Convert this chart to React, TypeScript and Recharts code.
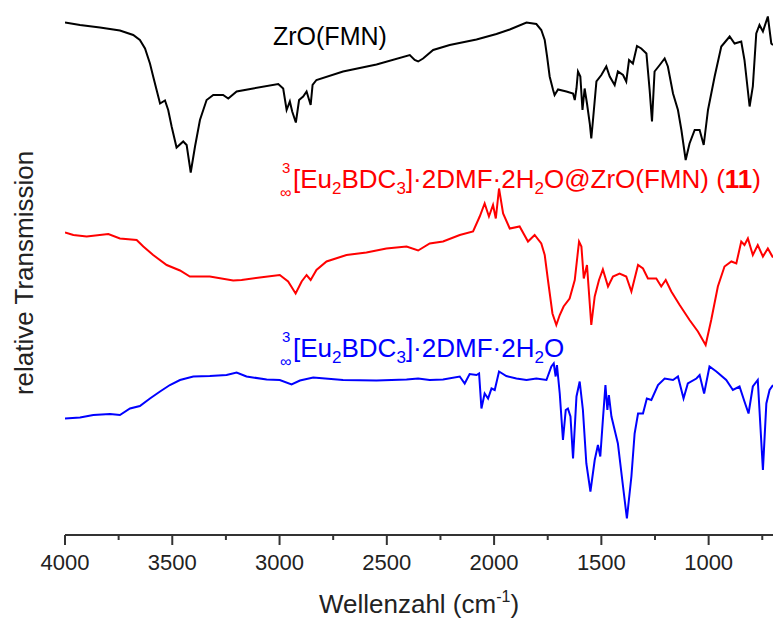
import React from 'react';
import { LineChart, Line, XAxis, YAxis, Customized } from 'recharts';

// wavenumbers (cm-1) and relative transmission
const zrWave = [4000, 3930, 3837, 3744, 3682, 3651, 3627, 3604, 3589, 3573, 3557, 3534, 3519, 3503, 3480, 3449, 3433, 3414, 3394, 3371, 3340, 3309, 3263, 3239, 3200, 3123, 3006, 2983, 2967, 2952, 2941, 2924, 2909, 2890, 2874, 2855, 2846, 2828, 2704, 2548, 2393, 2370, 2354, 2331, 2284, 2207, 2082, 1989, 1927, 1849, 1803, 1780, 1764, 1753, 1741, 1725, 1718, 1702, 1663, 1632, 1624, 1616, 1609, 1598, 1588, 1578, 1567, 1554, 1547, 1539, 1523, 1500, 1477, 1461, 1438, 1423, 1399, 1384, 1371, 1353, 1334, 1314, 1290, 1275, 1264, 1252, 1228, 1205, 1190, 1166, 1143, 1127, 1107, 1089, 1065, 1042, 1023, 1003, 972, 941, 902, 879, 848, 833, 809, 794, 778, 763, 747, 724, 708, 700];
const zrT = [102.5, 102, 101.5, 100.9, 100, 99, 97.3, 94.3, 91.7, 89, 86.3, 86.9, 85, 81.7, 77.5, 78.7, 78, 72.5, 77.7, 83, 87, 88, 88, 87.3, 88.7, 89.3, 90.2, 89.3, 85, 86.7, 84.7, 82.5, 87, 87.7, 88.7, 86, 90, 91, 92.7, 94.1, 96, 95, 94.7, 95.3, 97, 98, 99.1, 100.2, 101.1, 102.5, 102.2, 101, 99, 95.7, 91.7, 89, 88, 89.1, 88.7, 88.3, 87, 89.3, 92.7, 91.7, 85, 89.3, 86.3, 82.3, 79.3, 83, 90.7, 92, 93.7, 91.7, 90, 92.7, 92, 90.7, 95, 94.3, 97.8, 97.3, 96.3, 89, 82.7, 92.7, 94, 95.3, 93.7, 88.3, 85, 81, 75, 78.3, 81, 81, 78, 85, 91.7, 97.7, 99.7, 98.3, 98.7, 95, 85.7, 89.7, 100.3, 102, 100.7, 103.7, 98.3, 98];

const compWave = [4000, 3961, 3899, 3798, 3744, 3666, 3635, 3589, 3526, 3464, 3418, 3325, 3216, 3177, 3092, 2999, 2960, 2925, 2897, 2874, 2855, 2828, 2781, 2688, 2595, 2502, 2408, 2354, 2300, 2238, 2160, 2098, 2067, 2044, 2024, 2005, 1992, 1977, 1958, 1927, 1881, 1842, 1811, 1780, 1764, 1749, 1728, 1710, 1694, 1676, 1648, 1624, 1604, 1593, 1582, 1567, 1547, 1531, 1511, 1493, 1469, 1446, 1415, 1384, 1360, 1329, 1306, 1283, 1244, 1221, 1200, 1174, 1135, 1089, 1050, 1014, 988, 957, 926, 894, 871, 848, 833, 817, 794, 771, 747, 724, 703, 700];
const compT = [60.5, 60, 59.7, 60.2, 59.3, 59, 57.7, 56, 54, 52.9, 51.7, 51.7, 50.9, 51, 51.5, 52, 50.7, 48.3, 50.7, 52, 51, 53, 54.7, 56, 56.5, 57.3, 57.7, 56.9, 58.3, 58.7, 60, 60.7, 63.7, 66.3, 63.7, 66, 63.3, 69.3, 64.3, 61.3, 61.7, 58.7, 60, 58.3, 56, 51, 44.3, 42, 44, 45.7, 47.3, 51, 58.7, 57.7, 51.3, 54, 42, 47.7, 51, 53.1, 49.7, 51.7, 52.3, 51.7, 48.7, 54, 53.3, 51.3, 51.3, 49.7, 51, 48.7, 46, 43, 40.7, 38, 43, 49.7, 53.7, 54.7, 54.3, 58.7, 58, 59.3, 56, 58, 55.7, 57.3, 55.7, 55.5];

const euWave = [4000, 3930, 3868, 3790, 3744, 3697, 3651, 3604, 3557, 3511, 3464, 3402, 3325, 3247, 3200, 3154, 3060, 2999, 2944, 2905, 2843, 2704, 2548, 2408, 2354, 2300, 2238, 2160, 2137, 2114, 2082, 2070, 2059, 2044, 2028, 2012, 1997, 1977, 1943, 1896, 1849, 1803, 1756, 1733, 1722, 1713, 1707, 1694, 1679, 1666, 1656, 1644, 1632, 1616, 1601, 1586, 1570, 1551, 1531, 1516, 1505, 1493, 1481, 1472, 1465, 1453, 1438, 1423, 1399, 1381, 1360, 1345, 1329, 1306, 1288, 1267, 1236, 1205, 1166, 1143, 1117, 1097, 1057, 1042, 1021, 996, 964, 918, 887, 856, 833, 814, 794, 771, 747, 731, 716, 700];
const euT = [23.3, 23.5, 24, 24.2, 24, 25.3, 25.8, 27.3, 28.7, 30, 31, 31.7, 31.8, 32, 32.5, 31.7, 31.1, 31, 30.1, 30.9, 31.5, 31, 30.9, 31.1, 31.3, 31, 31.1, 31.7, 30.3, 32.2, 32, 32.3, 25.3, 28.3, 27.3, 29.3, 29, 32.7, 31.8, 31.3, 31, 31.3, 31, 33.7, 34.3, 31.7, 34, 28.3, 19, 25, 25.3, 23.7, 15.3, 27.7, 30.7, 25, 14.3, 8.7, 15, 18, 15.7, 23, 30, 25, 28, 23.7, 21, 18.3, 9.7, 3.3, 11.7, 20.3, 24.3, 24.3, 27.3, 27, 30, 31.3, 31, 31.7, 27.3, 30.3, 31.3, 32, 28.3, 33.7, 32.7, 31, 29, 29.7, 26.7, 24.3, 29.7, 31, 13, 26.3, 29, 30];

const xTicks = [4000, 3750, 3500, 3250, 3000, 2750, 2500, 2250, 2000, 1750, 1500, 1250, 1000, 750];

const zip = (w: number[], t: number[]) => w.map((v, i) => ({ w: v, t: t[i] }));
const zrData = zip(zrWave, zrT);
const compData = zip(compWave, compT);
const euData = zip(euWave, euT);

const FONT = "Arial, 'Liberation Sans', sans-serif";
const AXIS = '#333';

const WaveTick = (props: any) => {
  const { x, y, payload } = props;
  const major = payload.value % 500 === 0;
  return (
    <g>
      <line x1={x} x2={x} y1={y} y2={y + (major ? 10 : 5)} stroke={AXIS} strokeWidth={2} />
      {major && (
        <text x={x} y={y + 35} textAnchor="middle" fontSize={22} fontFamily={FONT} fill="#222">
          {payload.value}
        </text>
      )}
    </g>
  );
};

const Labels = () => (
  <g fontFamily={FONT}>
    <text x={273} y={45} fontSize={25} fill="#000">ZrO(FMN)</text>

    <text x={282} y={173} fontSize={15} fill="#ff0000">3</text>
    <text x={280} y={198} fontSize={16} fill="#ff0000">∞</text>
    <text x={293} y={188} fontSize={26} fill="#ff0000">
      [Eu<tspan fontSize={17} dy={6}>2</tspan>
      <tspan dy={-6}>BDC</tspan>
      <tspan fontSize={17} dy={6}>3</tspan>
      <tspan dy={-6}>]·2DMF·2H</tspan>
      <tspan fontSize={17} dy={6}>2</tspan>
      <tspan dy={-6}>O@ZrO(FMN) (</tspan>
      <tspan fontWeight="bold">11</tspan>)
    </text>

    <text x={282} y={342} fontSize={15} fill="#0000ff">3</text>
    <text x={280} y={367} fontSize={16} fill="#0000ff">∞</text>
    <text x={293} y={357} fontSize={26} fill="#0000ff">
      [Eu<tspan fontSize={17} dy={6}>2</tspan>
      <tspan dy={-6}>BDC</tspan>
      <tspan fontSize={17} dy={6}>3</tspan>
      <tspan dy={-6}>]·2DMF·2H</tspan>
      <tspan fontSize={17} dy={6}>2</tspan>
      <tspan dy={-6}>O</tspan>
    </text>

    <text transform="translate(33,273) rotate(-90)" textAnchor="middle" fontSize={26} fill="#222">
      relative Transmission
    </text>
    <text x={419} y={613} textAnchor="middle" fontSize={26} fill="#222">
      Wellenzahl (cm<tspan fontSize={16} dy={-11}>-1</tspan>
      <tspan dy={11}>)</tspan>
    </text>
  </g>
);

export default function App() {
  return (
    <div style={{ position: 'absolute', left: 0, top: 0, background: '#fff' }}>
      <LineChart width={774} height={618} margin={{ top: 14, right: 1, bottom: 0, left: 65 }}>
        <XAxis
          type="number"
          dataKey="w"
          domain={[700, 4000]}
          reversed
          ticks={xTicks}
          interval={0}
          height={83}
          tickSize={0}
          tickMargin={0}
          tickLine={false}
          tick={<WaveTick />}
          axisLine={{ stroke: AXIS, strokeWidth: 2 }}
          allowDataOverflow
        />
        <YAxis
          type="number"
          domain={[0, 104.2]}
          width={0}
          tick={false}
          tickLine={false}
          axisLine={{ stroke: AXIS, strokeWidth: 2 }}
          allowDataOverflow
        />
        <Line data={zrData} dataKey="t" stroke="#000000" strokeWidth={2} dot={false} isAnimationActive={false} />
        <Line data={compData} dataKey="t" stroke="#ff0000" strokeWidth={2} dot={false} isAnimationActive={false} />
        <Line data={euData} dataKey="t" stroke="#0000ff" strokeWidth={2} dot={false} isAnimationActive={false} />
        <Customized component={Labels} />
      </LineChart>
    </div>
  );
}
